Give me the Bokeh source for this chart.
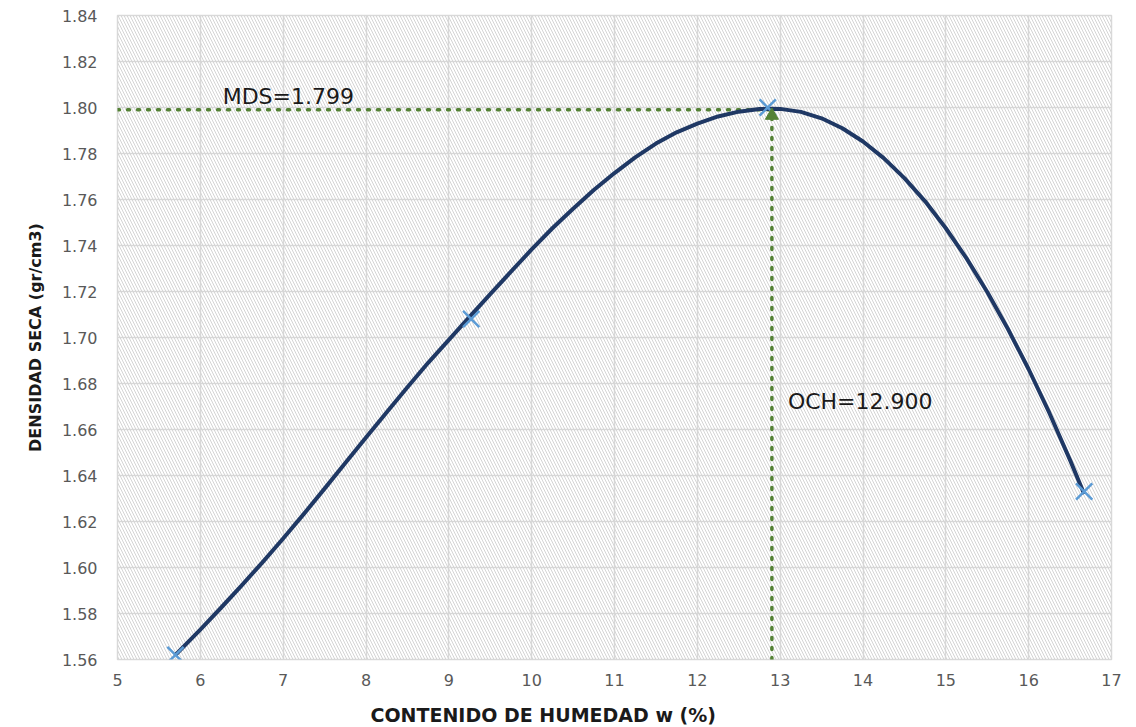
from bokeh.plotting import figure
from bokeh.models import FixedTicker, PrintfTickFormatter, BoxAnnotation, Label, Title
from bokeh.embed import file_html
from bokeh.resources import INLINE

# measured points
w_pts = [5.70, 9.27, 12.85, 16.67]
d_pts = [1.562, 1.708, 1.800, 1.633]

# trend curve
curve_w = [5.70, 6.00, 6.25, 6.50, 6.75, 7.00, 7.25, 7.50, 7.75, 8.00, 8.25, 8.50, 8.75,
           9.00, 9.25, 9.50, 9.75, 10.00, 10.25, 10.50, 10.75, 11.00, 11.25, 11.50, 11.75,
           12.00, 12.25, 12.50, 12.75, 12.90, 13.00, 13.25, 13.50, 13.75, 14.00, 14.25,
           14.50, 14.75, 15.00, 15.25, 15.50, 15.75, 16.00, 16.25, 16.50, 16.67]
curve_d = [1.5620, 1.5730, 1.5825, 1.5922, 1.6022, 1.6126, 1.6233, 1.6343, 1.6454, 1.6565,
           1.6675, 1.6784, 1.6890, 1.6990, 1.7090, 1.7189, 1.7286, 1.7383, 1.7475, 1.7560,
           1.7641, 1.7715, 1.7783, 1.7843, 1.7892, 1.7930, 1.7961, 1.7982, 1.7993, 1.7995,
           1.7994, 1.7981, 1.7953, 1.7910, 1.7852, 1.7780, 1.7693, 1.7592, 1.7475, 1.7344,
           1.7198, 1.7037, 1.6862, 1.6672, 1.6467, 1.6320]

mds = 1.799
och = 12.900
x_min, x_max = 5, 17
y_min, y_max = 1.56, 1.84
x_ticks = list(range(5, 18))
y_ticks = [1.56, 1.58, 1.60, 1.62, 1.64, 1.66, 1.68, 1.70, 1.72, 1.74, 1.76, 1.78, 1.80, 1.82, 1.84]

FONT = "DejaVu Sans"

p = figure(width=1136, height=727, output_backend="svg", toolbar_location=None,
           x_range=(x_min, x_max), y_range=(y_min, y_max),
           min_border_left=117, min_border_right=25, min_border_top=15, min_border_bottom=68)
p.background_fill_color = "white"
p.border_fill_color = "white"
p.outline_line_color = "#d9d9d9"
p.outline_line_width = 1.5

# hatched plot area
p.add_layout(BoxAnnotation(fill_alpha=0, line_alpha=0, hatch_pattern="left_diagonal_line",
                           hatch_color="#d4d4d4", hatch_scale=6, hatch_weight=1,
                           level="underlay"))

p.xaxis.ticker = FixedTicker(ticks=x_ticks)
p.yaxis.ticker = FixedTicker(ticks=y_ticks)
p.yaxis.formatter = PrintfTickFormatter(format="%.2f")
for ax in (p.xaxis[0], p.yaxis[0]):
    ax.axis_line_color = None
    ax.major_tick_line_color = None
    ax.minor_tick_line_color = None
    ax.major_label_text_font = FONT
    ax.major_label_text_font_size = "16px"
    ax.major_label_text_color = "#595959"
    ax.axis_label_text_font = FONT
    ax.axis_label_text_font_style = "bold"
    ax.axis_label_text_color = "#1a1a1a"
p.xaxis.major_label_standoff = 8
p.yaxis.major_label_standoff = 14
p.yaxis.axis_label = "DENSIDAD SECA (gr/cm3)"
p.yaxis.axis_label_text_font_size = "16px"
p.yaxis.axis_label_standoff = 14

# spacer, then the x-axis title placed left of centre as in the original
p.add_layout(Title(text=" ", text_font=FONT, text_font_size="10px", standoff=0), "below")
p.add_layout(Title(text="CONTENIDO DE HUMEDAD w (%)", align="left", offset=253,
                   text_font=FONT, text_font_size="19px", text_font_style="bold",
                   text_color="#1a1a1a", standoff=0), "below")

p.grid.grid_line_color = "#d9d9d9"
p.grid.grid_line_width = 1.5

# dotted guide lines
p.line([x_min, och], [mds, mds], line_color="#548235", line_width=3.5, line_dash="2 8",
       line_cap="round")
p.line([och, och], [y_min, mds], line_color="#548235", line_width=3.5, line_dash="2 8",
       line_cap="round")

# curve
p.line(curve_w, curve_d, line_color="#1f3864", line_width=4, line_join="round")

# points
p.scatter(w_pts, d_pts, marker="x", size=23, line_color="#5b9bd5", line_width=2.5)

# optimum point
p.scatter([och], [mds - 0.0025], marker="triangle", size=13, fill_color="#548235",
          line_color="#548235")

p.add_layout(Label(x=x_min + 1.27, y=mds, text="MDS=1.799", text_font=FONT,
                   text_font_size="22px", text_color="#1a1a1a",
                   text_baseline="bottom", y_offset=1))
p.add_layout(Label(x=och, y=1.672, text="OCH=12.900", text_font=FONT,
                   text_font_size="22px", text_color="#1a1a1a",
                   text_baseline="middle", x_offset=16))

open("out.html", "w").write(file_html(p, INLINE))
